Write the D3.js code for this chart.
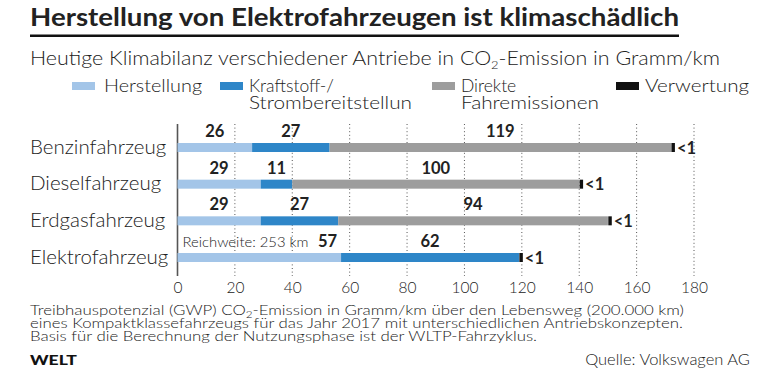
<!DOCTYPE html>
<html>
<head>
<meta charset="utf-8">
<script src="https://cdn.jsdelivr.net/npm/d3@7"></script>
<style>
  body { margin: 0; background: #fff; }
  svg text { font-family: "Lato", "Open Sans", sans-serif; fill: #222; }
</style>
</head>
<body>
<svg id="chart" width="780" height="373"></svg>
<script>
// ----- data -----
var categories = ["Benzinfahrzeug", "Dieselfahrzeug", "Erdgasfahrzeug", "Elektrofahrzeug"];
var herstellung = [26, 29, 29, 57];
var kraftstoff = [27, 11, 27, 62];
var direkte = [119, 100, 94, 0];
var verwertung = [1, 1, 1, 1];
var verwertungLabel = ["<1", "<1", "<1", "<1"];
var notes = ["", "", "", "Reichweite: 253 km"];
var seriesNames = ["Herstellung", "Kraftstoff-/|Strombereitstellun", "Direkte|Fahremissionen", "Verwertung"];
var colors = ["#a3c5e8", "#2e86c8", "#9d9d9d", "#111111"];
var tickValues = [0, 20, 40, 60, 80, 100, 120, 140, 160, 180];

var svg = d3.select("#chart");

// stretch a text to the width measured in the picture
function fit(sel, w) {
  sel.attr("textLength", w).attr("lengthAdjust", "spacingAndGlyphs");
}

// ----- header -----
svg.append("text").attr("x", 30).attr("y", 26)
  .style("font-size", "25px").style("font-weight", 700)
  .text("Herstellung von Elektrofahrzeugen ist klimaschädlich")
  .call(fit, 649);

svg.append("rect").attr("x", 30).attr("y", 34.5).attr("width", 649).attr("height", 2.5).attr("fill", "#111");

var sub = svg.append("text").attr("x", 30).attr("y", 65)
  .style("font-size", "20px").style("font-weight", 300);
sub.append("tspan").text("Heutige Klimabilanz verschiedener Antriebe in CO");
sub.append("tspan").attr("dy", 4).style("font-size", "12px").text("2");
sub.append("tspan").attr("dy", -4).text("-Emission in Gramm/km");
sub.call(fit, 690);

// ----- legend -----
var legendX = [72, 220, 432, 616];
var legendW = [[98], [null, 163], [null, 138], [104]];
var legend = svg.append("g").selectAll("g")
  .data(seriesNames).enter().append("g")
  .attr("transform", function (d, i) { return "translate(" + legendX[i] + ",0)"; });
legend.append("rect").attr("x", 0).attr("y", 82).attr("width", 23).attr("height", 8)
  .attr("fill", function (d, i) { return colors[i]; });
legend.each(function (d, i) {
  var g = d3.select(this);
  d.split("|").forEach(function (line, j) {
    var t = g.append("text").attr("x", i == 0 ? 32 : 29).attr("y", 91.5 + j * 17)
      .style("font-size", "17.5px").style("font-weight", 300).text(line);
    if (legendW[i][j]) t.call(fit, legendW[i][j]);
  });
});

// ----- scales -----
var x = d3.scaleLinear().domain([0, 180]).range([177.5, 694]);
var y = d3.scalePoint().domain(categories).range([147.5, 257.5]);
var barH = 9;

// grid
svg.append("g").selectAll("line")
  .data(tickValues.slice(1)).enter().append("line")
  .attr("x1", function (d) { return x(d); }).attr("x2", function (d) { return x(d); })
  .attr("y1", 124).attr("y2", 276)
  .attr("stroke", "#555").attr("stroke-width", 1).attr("stroke-dasharray", "1,2.6");

svg.append("line").attr("x1", x(0)).attr("x2", x(0)).attr("y1", 124).attr("y2", 276)
  .attr("stroke", "#555").attr("stroke-width", 1.6);

// axis labels
var axis = d3.axisBottom(x).tickValues(tickValues).tickSize(0).tickPadding(0);
var ax = svg.append("g").attr("transform", "translate(0,282)").call(axis);
ax.select(".domain").remove();
ax.selectAll("text").attr("dy", "0.71em")
  .style("font-size", "15.5px").style("font-weight", 300).style("font-family", "Lato, sans-serif").attr("fill", "#333");

// ----- bars -----
var stackRows = categories.map(function (c, i) {
  return { cat: c, v: [herstellung[i], kraftstoff[i], direkte[i], verwertung[i]] };
});

var rows = svg.append("g").selectAll("g").data(stackRows).enter().append("g");

// category labels
rows.append("text").attr("x", 30)
  .attr("y", function (d) { return y(d.cat) + barH / 2 + 1.5; })
  .style("font-size", "20.5px").style("font-weight", 300)
  .text(function (d) { return d.cat; });

rows.each(function (d, i) {
  var g = d3.select(this);
  var start = 0;
  d.v.forEach(function (v, k) {
    if (v == 0) return;
    var x0 = x(start), x1 = x(start + v);
    var w = Math.max(x1 - x0, k == 3 ? 3.5 : 0);
    if (k == 3) x0 = x1 - w + 1;
    g.append("rect").attr("x", x0).attr("y", y(d.cat) - barH / 2)
      .attr("width", w).attr("height", barH).attr("fill", colors[k]);
    if (k < 3) {
      var lbl = g.append("text").attr("y", y(d.cat) - barH / 2 - 6)
        .style("font-size", "16.5px").style("font-weight", 700).text(v);
      if (k == 0 && notes[i]) {
        lbl.attr("x", x1 - 4).attr("text-anchor", "end");
        g.append("text").attr("x", x0 + 5).attr("y", y(d.cat) - barH / 2 - 6)
          .style("font-size", "14px").style("font-weight", 300).text(notes[i])
          .call(fit, 126);
      } else {
        lbl.attr("x", (x0 + x1) / 2).attr("text-anchor", "middle");
      }
    } else {
      g.append("text").attr("x", x0 + w + 2).attr("y", y(d.cat) + barH / 2 + 1.5)
        .style("font-size", "16.5px").style("font-weight", 700).text(verwertungLabel[i]);
    }
    start += v;
  });
});

// ----- footer -----
var foot = svg.append("g").style("font-size", "13px").style("font-weight", 300);
var f1 = foot.append("text").attr("x", 30).attr("y", 314.5);
f1.append("tspan").text("Treibhauspotenzial (GWP) CO");
f1.append("tspan").attr("dy", 3).style("font-size", "9px").text("2");
f1.append("tspan").attr("dy", -3).text("-Emission in Gramm/km über den Lebensweg (200.000 km)");
f1.call(fit, 654);
foot.append("text").attr("x", 30).attr("y", 327.5)
  .text("eines Kompaktklassefahrzeugs für das Jahr 2017 mit unterschiedlichen Antriebskonzepten.")
  .call(fit, 653);
foot.append("text").attr("x", 30).attr("y", 340.5)
  .text("Basis für die Berechnung der Nutzungsphase ist der WLTP-Fahrzyklus.")
  .call(fit, 507);

svg.append("text").attr("x", 30).attr("y", 365)
  .style("font-size", "13px").style("font-weight", 900).style("fill", "#111")
  .text("WELT").call(fit, 47);

svg.append("text").attr("x", 750).attr("y", 365).attr("text-anchor", "end")
  .style("font-size", "16.5px").style("font-weight", 300)
  .text("Quelle: Volkswagen AG");
</script>
</body>
</html>
